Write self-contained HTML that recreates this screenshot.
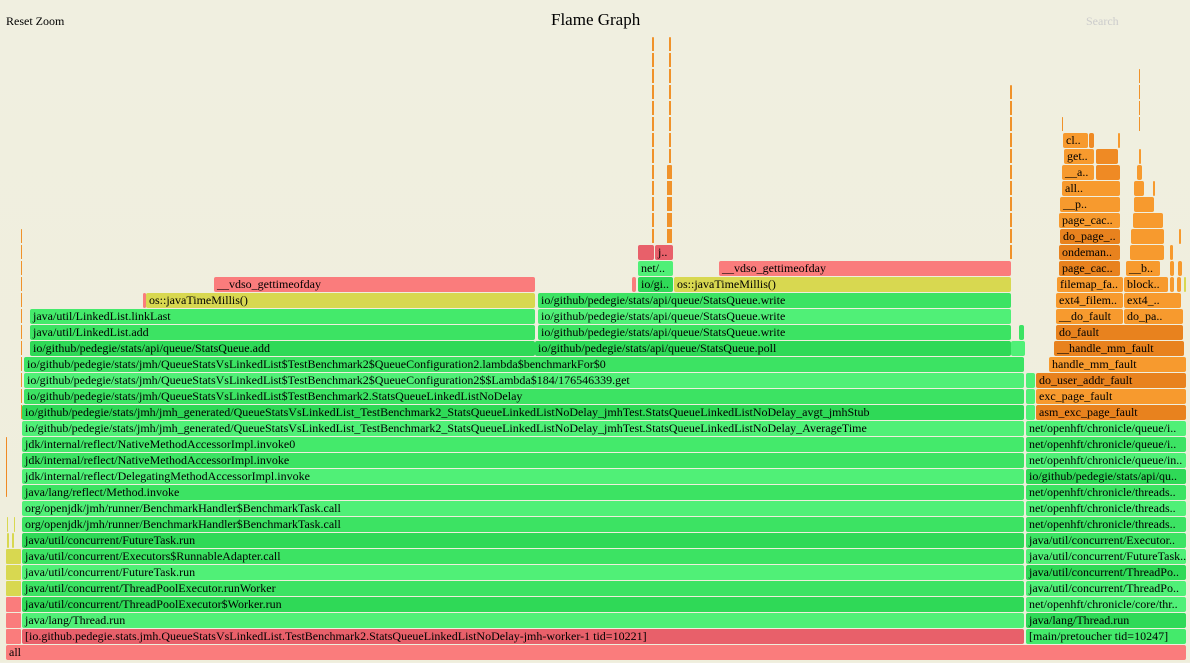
<!DOCTYPE html>
<html><head><meta charset="utf-8"><style>
html,body{margin:0;padding:0}
body{width:1190px;height:662px;position:relative;overflow:hidden;background:linear-gradient(#f0efe0,#efeedc);font-family:"Liberation Serif",serif}
#w{position:absolute;left:0;top:1px;width:1190px;height:662px}
.f{position:absolute;height:15px;border-radius:2px;font-size:12px;line-height:15px;padding-left:3px;box-sizing:border-box;overflow:hidden;white-space:nowrap;color:#000}
.g1{background:#3ce363}.g2{background:#50f077}.g3{background:#2fd957}.g4{background:#44ea6b}
.o1{background:#ef8a24}.o2{background:#f79a2e}.o3{background:#e8821e}
.r1{background:#fa7c7c}.r2{background:#e8606a}.y{background:#d8d850}
.sp{position:absolute;background:repeating-linear-gradient(#f0922a 0 14px,transparent 14px 16px);border-radius:1px}
.t{position:absolute;font-size:12px}
</style></head><body>
<div class="t" style="left:6px;top:14px;font-size:12px">Reset Zoom</div>
<div class="t" style="left:551px;top:10px;font-size:17px">Flame Graph</div>
<div class="t" style="left:1086px;top:14px;color:#ccc">Search</div>
<div id="w">
<!-- row 0 -->
<div class="f r1" style="left:6px;width:1180px;top:644px">all</div>
<!-- left slivers -->
<div class="f r1" style="left:6px;width:15px;top:628px;border-radius:1px"></div>
<div class="f r1" style="left:6px;width:15px;top:612px;border-radius:1px"></div>
<div class="f r1" style="left:6px;width:15px;top:596px;border-radius:1px"></div>
<div class="f y" style="left:6px;width:15px;top:580px;border-radius:1px"></div>
<div class="f y" style="left:6px;width:15px;top:564px;border-radius:1px"></div>
<div class="f y" style="left:6px;width:15px;top:548px;border-radius:1px"></div>
<div class="f y" style="left:7px;width:2px;top:532px;padding:0"></div>
<div class="f y" style="left:12px;width:2px;top:532px;padding:0"></div>
<div class="f y" style="left:7px;width:1px;top:516px;padding:0"></div>
<div class="f y" style="left:14px;width:1px;top:516px;padding:0"></div>
<div class="f o1" style="left:6px;width:1px;top:436px;height:60px;padding:0"></div>
<div class="sp" style="left:21px;width:1px;top:228px;height:190px"></div>

<!-- main left column -->
<div class="f r2" style="left:22px;width:1002px;top:628px">[io.github.pedegie.stats.jmh.QueueStatsVsLinkedList.TestBenchmark2.StatsQueueLinkedListNoDelay-jmh-worker-1 tid=10221]</div>
<div class="f g2" style="left:22px;width:1002px;top:612px">java/lang/Thread.run</div>
<div class="f g3" style="left:22px;width:1002px;top:596px">java/util/concurrent/ThreadPoolExecutor$Worker.run</div>
<div class="f g1" style="left:22px;width:1002px;top:580px">java/util/concurrent/ThreadPoolExecutor.runWorker</div>
<div class="f g2" style="left:22px;width:1002px;top:564px">java/util/concurrent/FutureTask.run</div>
<div class="f g1" style="left:22px;width:1002px;top:548px">java/util/concurrent/Executors$RunnableAdapter.call</div>
<div class="f g3" style="left:22px;width:1002px;top:532px">java/util/concurrent/FutureTask.run</div>
<div class="f g1" style="left:22px;width:1002px;top:516px">org/openjdk/jmh/runner/BenchmarkHandler$BenchmarkTask.call</div>
<div class="f g2" style="left:22px;width:1002px;top:500px">org/openjdk/jmh/runner/BenchmarkHandler$BenchmarkTask.call</div>
<div class="f g1" style="left:22px;width:1002px;top:484px">java/lang/reflect/Method.invoke</div>
<div class="f g2" style="left:22px;width:1002px;top:468px">jdk/internal/reflect/DelegatingMethodAccessorImpl.invoke</div>
<div class="f g1" style="left:22px;width:1002px;top:452px">jdk/internal/reflect/NativeMethodAccessorImpl.invoke</div>
<div class="f g4" style="left:22px;width:1002px;top:436px">jdk/internal/reflect/NativeMethodAccessorImpl.invoke0</div>
<div class="f g2" style="left:22px;width:1002px;top:420px">io/github/pedegie/stats/jmh/jmh_generated/QueueStatsVsLinkedList_TestBenchmark2_StatsQueueLinkedListNoDelay_jmhTest.StatsQueueLinkedListNoDelay_AverageTime</div>
<div class="f g3" style="left:22px;width:1002px;top:404px">io/github/pedegie/stats/jmh/jmh_generated/QueueStatsVsLinkedList_TestBenchmark2_StatsQueueLinkedListNoDelay_jmhTest.StatsQueueLinkedListNoDelay_avgt_jmhStub</div>
<div class="f g1" style="left:24px;width:1000px;top:388px">io/github/pedegie/stats/jmh/QueueStatsVsLinkedList$TestBenchmark2.StatsQueueLinkedListNoDelay</div>
<div class="f g2" style="left:24px;width:1000px;top:372px">io/github/pedegie/stats/jmh/QueueStatsVsLinkedList$TestBenchmark2$QueueConfiguration2$$Lambda$184/176546339.get</div>
<div class="f g1" style="left:24px;width:1000px;top:356px">io/github/pedegie/stats/jmh/QueueStatsVsLinkedList$TestBenchmark2$QueueConfiguration2.lambda$benchmarkFor$0</div>
<div class="f g3" style="left:30px;width:505px;top:340px">io/github/pedegie/stats/api/queue/StatsQueue.add</div>
<div class="f g3" style="left:535px;width:476px;top:340px">io/github/pedegie/stats/api/queue/StatsQueue.poll</div>
<div class="f g2" style="left:1011px;width:14px;top:340px"></div>
<div class="f g1" style="left:30px;width:505px;top:324px">java/util/LinkedList.add</div>
<div class="f g1" style="left:538px;width:473px;top:324px">io/github/pedegie/stats/api/queue/StatsQueue.write</div>
<div class="f g1" style="left:1019px;width:5px;top:324px;padding:0"></div>
<div class="f g4" style="left:30px;width:505px;top:308px">java/util/LinkedList.linkLast</div>
<div class="f g2" style="left:538px;width:473px;top:308px">io/github/pedegie/stats/api/queue/StatsQueue.write</div>
<div class="f r1" style="left:143px;width:3px;top:292px;padding:0"></div>
<div class="f y" style="left:146px;width:389px;top:292px">os::javaTimeMillis()</div>
<div class="f g1" style="left:538px;width:473px;top:292px">io/github/pedegie/stats/api/queue/StatsQueue.write</div>
<div class="f r1" style="left:214px;width:321px;top:276px">__vdso_gettimeofday</div>
<div class="f r1" style="left:632px;width:4px;top:276px;padding:0"></div>
<div class="f g3" style="left:638px;width:35px;top:276px">io/gi..</div>
<div class="f y" style="left:674px;width:337px;top:276px">os::javaTimeMillis()</div>
<div class="f g2" style="left:638px;width:35px;top:260px">net/..</div>
<div class="f r1" style="left:719px;width:292px;top:260px">__vdso_gettimeofday</div>
<div class="f r2" style="left:638px;width:16px;top:244px"></div>
<div class="f r2" style="left:655px;width:18px;top:244px">j..</div>
<!-- spikes -->
<div class="sp" style="left:652px;width:2px;top:36px;height:208px"></div>
<div class="sp" style="left:667px;width:5px;top:164px;height:80px"></div>
<div class="sp" style="left:669px;width:2px;top:36px;height:128px"></div>
<div class="sp" style="left:1010px;width:2px;top:84px;height:176px"></div>
<div class="sp" style="left:1139px;width:1px;top:68px;height:64px"></div>
<div class="sp" style="left:1062px;width:1px;top:116px;height:16px"></div>

<!-- right column -->
<div class="f g4" style="left:1026px;width:160px;top:628px">[main/pretoucher tid=10247]</div>
<div class="f g3" style="left:1026px;width:160px;top:612px">java/lang/Thread.run</div>
<div class="f g2" style="left:1026px;width:160px;top:596px">net/openhft/chronicle/core/thr..</div>
<div class="f g2" style="left:1026px;width:160px;top:580px">java/util/concurrent/ThreadPo..</div>
<div class="f g3" style="left:1026px;width:160px;top:564px">java/util/concurrent/ThreadPo..</div>
<div class="f g2" style="left:1026px;width:160px;top:548px">java/util/concurrent/FutureTask..</div>
<div class="f g1" style="left:1026px;width:160px;top:532px">java/util/concurrent/Executor..</div>
<div class="f g1" style="left:1026px;width:160px;top:516px">net/openhft/chronicle/threads..</div>
<div class="f g2" style="left:1026px;width:160px;top:500px">net/openhft/chronicle/threads..</div>
<div class="f g1" style="left:1026px;width:160px;top:484px">net/openhft/chronicle/threads..</div>
<div class="f g3" style="left:1026px;width:160px;top:468px">io/github/pedegie/stats/api/qu..</div>
<div class="f g2" style="left:1026px;width:160px;top:452px">net/openhft/chronicle/queue/in..</div>
<div class="f g1" style="left:1026px;width:160px;top:436px">net/openhft/chronicle/queue/i..</div>
<div class="f g2" style="left:1026px;width:160px;top:420px">net/openhft/chronicle/queue/i..</div>
<div class="f g2" style="left:1026px;width:9px;top:404px"></div>
<div class="f o3" style="left:1036px;width:150px;top:404px">asm_exc_page_fault</div>
<div class="f g2" style="left:1026px;width:9px;top:388px"></div>
<div class="f o2" style="left:1036px;width:150px;top:388px">exc_page_fault</div>
<div class="f g2" style="left:1026px;width:9px;top:372px"></div>
<div class="f o3" style="left:1036px;width:150px;top:372px">do_user_addr_fault</div>
<div class="f o2" style="left:1049px;width:137px;top:356px">handle_mm_fault</div>
<div class="f o3" style="left:1054px;width:130px;top:340px">__handle_mm_fault</div>
<div class="f o3" style="left:1056px;width:127px;top:324px">do_fault</div>
<div class="f o2" style="left:1056px;width:67px;top:308px">__do_fault</div>
<div class="f o2" style="left:1124px;width:59px;top:308px">do_pa..</div>
<div class="f o2" style="left:1056px;width:67px;top:292px">ext4_filem..</div>
<div class="f o2" style="left:1124px;width:57px;top:292px">ext4_..</div>
<div class="f o2" style="left:1057px;width:66px;top:276px">filemap_fa..</div>
<div class="f o2" style="left:1124px;width:44px;top:276px">block..</div>
<div class="f o2" style="left:1170px;width:4px;top:276px;padding:0"></div>
<div class="f o2" style="left:1177px;width:4px;top:276px;padding:0"></div>
<div class="f y" style="left:1184px;width:2px;top:276px;padding:0"></div>
<div class="f o3" style="left:1059px;width:61px;top:260px">page_cac..</div>
<div class="f o2" style="left:1126px;width:34px;top:260px">__b..</div>
<div class="f o2" style="left:1170px;width:4px;top:260px;padding:0"></div>
<div class="f o2" style="left:1178px;width:4px;top:260px;padding:0"></div>
<div class="f o3" style="left:1059px;width:61px;top:244px">ondeman..</div>
<div class="f o2" style="left:1130px;width:34px;top:244px"></div>
<div class="f o2" style="left:1170px;width:3px;top:244px;padding:0"></div>
<div class="f o3" style="left:1060px;width:60px;top:228px">do_page_..</div>
<div class="f o2" style="left:1131px;width:33px;top:228px"></div>
<div class="f o2" style="left:1179px;width:2px;top:228px;padding:0"></div>
<div class="f o2" style="left:1059px;width:61px;top:212px">page_cac..</div>
<div class="f o2" style="left:1133px;width:30px;top:212px"></div>
<div class="f o2" style="left:1060px;width:60px;top:196px">__p..</div>
<div class="f o2" style="left:1134px;width:20px;top:196px"></div>
<div class="f o2" style="left:1062px;width:58px;top:180px">all..</div>
<div class="f o2" style="left:1134px;width:10px;top:180px"></div>
<div class="f o2" style="left:1153px;width:2px;top:180px;padding:0"></div>
<div class="f o2" style="left:1062px;width:32px;top:164px">__a..</div>
<div class="f o1" style="left:1096px;width:24px;top:164px"></div>
<div class="f o2" style="left:1137px;width:5px;top:164px;padding:0"></div>
<div class="f o2" style="left:1064px;width:30px;top:148px">get..</div>
<div class="f o1" style="left:1096px;width:22px;top:148px"></div>
<div class="f o2" style="left:1139px;width:2px;top:148px;padding:0"></div>
<div class="f o2" style="left:1063px;width:25px;top:132px">cl..</div>
<div class="f o1" style="left:1089px;width:5px;top:132px"></div>
<div class="f o2" style="left:1118px;width:2px;top:132px;padding:0"></div>
</div>
</body></html>
